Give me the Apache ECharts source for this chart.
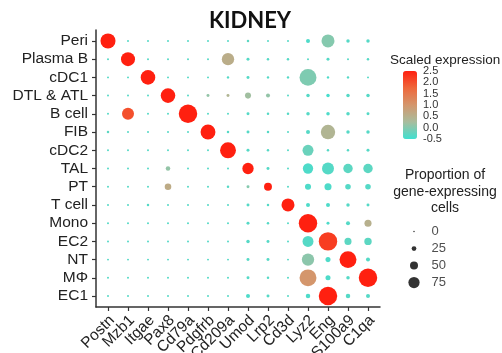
<!DOCTYPE html>
<html><head><meta charset="utf-8">
<script src="https://cdn.jsdelivr.net/npm/echarts@6/dist/echarts.min.js"></script>
<style>html,body{margin:0;padding:0;background:#fff}#c{width:502px;height:353px}</style>
</head><body><div id="c"></div>
<script>
const genes = ['Postn','Mzb1','Itgae','Pax8','Cd79a','Pdgfrb','Cd209a','Umod','Lrp2','Cd3d','Lyz2','Eng','S100a9','C1qa'];
const cellTypes = ['Peri','Plasma B','cDC1','DTL & ATL','B cell','FIB','cDC2','TAL','PT','T cell','Mono','EC2','NT','MΦ','EC1'];
// percent of cells expressing (rows = cellTypes, cols = genes)
const pct = [
  [78,1,1,1,1,1,1,4,1,1,13,66,10,10],
  [1,72,1,1,1,1,62,7,4,4,1,7,1,4],
  [1,1,75,1,1,1,4,7,4,4,89,4,4,1],
  [1,1,1,75,1,7,7,25,13,1,10,10,10,10],
  [1,60,1,1,98,1,1,7,4,4,10,10,10,7],
  [4,1,1,1,1,77,4,7,4,1,13,74,10,10],
  [1,1,1,1,1,1,83,7,4,1,54,4,4,7],
  [1,1,1,16,1,1,1,56,7,1,50,60,45,45],
  [1,1,1,28,1,1,4,7,36,1,25,31,22,22],
  [1,1,4,1,1,1,1,7,4,66,13,13,10,7],
  [1,1,1,1,1,1,1,7,4,1,98,7,13,31],
  [1,1,1,1,1,1,1,10,7,1,54,98,31,33],
  [1,1,1,1,1,1,1,7,7,1,62,19,89,13],
  [1,1,1,1,1,1,1,7,4,1,89,19,10,98],
  [1,1,1,1,1,1,1,13,7,1,16,98,16,13]
];
// scaled expression
const expr = [
  [2.5,-.35,-.35,-.35,-.35,-.35,-.35,-.3,-.35,-.35,-.4,0.0,-.35,-.35],
  [-.35,2.5,-.35,-.35,-.35,-.35,0.55,-.35,-.35,-.35,-.35,-.35,-.35,-.35],
  [-.35,-.35,2.5,-.35,-.35,-.35,-.35,-.35,-.35,-.35,-0.05,-.4,-.35,-.35],
  [-.35,-.35,-.35,2.5,-.35,0.1,0.4,0.2,0.1,-.35,-.35,-.45,-.35,-.35],
  [-.35,2.0,-.35,-.35,2.5,-.35,-.35,-.35,-.35,-.35,-.35,-.4,-.35,-.35],
  [-.3,-.35,-.35,-.35,-.35,2.5,-.35,-.35,-.35,-.35,-.35,0.4,-.35,-.35],
  [-.35,-.35,-.35,-.35,-.35,-.35,2.5,-.35,-.35,-.35,-0.2,-.35,-.35,-.35],
  [-.35,-.35,-.35,0.1,-.35,-.35,-.35,2.5,-.35,-.35,-.4,-.35,-.3,-.3],
  [-.35,-.35,-.35,0.6,-.35,-.35,-.35,0.0,2.5,-.35,-.4,-.4,-.35,-.35],
  [-.35,-.35,-.35,-.35,-.35,-.35,-.35,-.35,-.35,2.5,-.4,-.4,-.35,-.35],
  [-.35,-.35,-.35,-.35,-.35,-.35,-.35,-.35,-.35,-.35,2.5,-.4,-.35,0.5],
  [-.35,-.35,-.35,-.35,-.35,-.35,-.35,-.35,-.35,-.35,-.35,2.2,-.3,-.3],
  [-.35,-.35,-.35,-.35,-.35,-.35,-.35,-.35,-.35,-.35,0.05,-.4,2.5,-.35],
  [-.35,-.35,-.35,-.35,-.35,-.35,-.35,-.35,-.35,-.35,1.0,-.4,-.35,2.5],
  [-.35,-.35,-.35,-.35,-.35,-.35,-.35,-.4,-.35,-.35,-.4,2.5,-.35,-.35]
];
const exprRange = [-0.5, 2.5];
const sizeBreaks = [0,25,50,75];
const scaleColors = ['#40E0D0','#A8BD9D','#D4966C','#EE683B','#FF2010'];

const size = p => 1.8 + 0.17 * p;
const legendSize = p => 1.5 + 0.13 * p;
const data = [];
cellTypes.forEach((c,i)=>genes.forEach((g,j)=>data.push([j,i,pct[i][j],expr[i][j]])));
const geneIdx = genes.map((g,i)=>i);
const cellIdx = cellTypes.map((c,i)=>i);

const chart = echarts.init(document.getElementById('c'));
chart.setOption({
  animation:false,
  textStyle:{fontFamily:'Liberation Sans'},
  title:[
    {text:'KIDNEY', left:245, top:5, textAlign:'center', textStyle:{fontFamily:'Lato', fontWeight:'bold', fontSize:22, color:'#111'}},
    {text:'Scaled expression', left:385, top:48, textStyle:{fontFamily:'Liberation Sans', fontSize:13.5, fontWeight:'normal', color:'#222'}},
    {text:'Proportion of\ngene-expressing\ncells', left:440, top:162, textAlign:'center', textStyle:{fontFamily:'Liberation Sans', fontSize:14, fontWeight:'normal', lineHeight:16.5, color:'#222'}}
  ],
  grid:[
    {left:96, top:30, width:284, height:277, outerBoundsMode:'none'},
    {left:403, top:71, width:14, height:68, outerBoundsMode:'none'},
    {left:404, top:223, width:40, height:68, outerBoundsMode:'none'},
    {left:102, top:30, width:280, height:277, outerBoundsMode:'none'}
  ],
  xAxis:[
    {gridIndex:0, type:'value', min:-0.6, max:13.6, splitLine:{show:false},
     axisLine:{show:true, onZero:false, lineStyle:{color:'#333', width:1.5}},
     axisTick:{show:true, customValues:geneIdx, length:4, lineStyle:{color:'#333', width:1.2}},
     axisLabel:{show:false}},
    {gridIndex:1, type:'value', show:false, min:0, max:1},
    {gridIndex:2, type:'value', show:false, min:0, max:1},
    {gridIndex:3, type:'category', data:genes, boundaryGap:true,
     axisLine:{show:false}, axisTick:{show:false}, splitLine:{show:false},
     axisLabel:{interval:0, rotate:45, fontSize:15.5, color:'#222', margin:11}}
  ],
  yAxis:[
    {gridIndex:0, type:'value', inverse:true, min:-0.6, max:14.6, splitLine:{show:false},
     axisLine:{show:true, onZero:false, lineStyle:{color:'#333', width:1.5}},
     axisTick:{show:true, customValues:cellIdx, length:4, lineStyle:{color:'#333', width:1.2}},
     axisLabel:{customValues:cellIdx, showMinLabel:true, showMaxLabel:true,
       formatter:v=>cellTypes[Math.round(v)], fontSize:15.5, color:'#222', margin:8}},
    {gridIndex:1, type:'value', min:exprRange[0], max:exprRange[1], interval:0.5, position:'right',
     axisLine:{show:false}, splitLine:{show:false},
     axisTick:{show:true, inside:true, length:3, lineStyle:{color:'#fff'}},
     axisLabel:{fontSize:11, color:'#333', margin:6, formatter:v=>v.toFixed(1)}},
    {gridIndex:2, type:'value', show:false, inverse:true, min:-0.5, max:3.5},
    {gridIndex:3, type:'value', show:false, min:0, max:1}
  ],
  visualMap:{type:'continuous', min:exprRange[0], max:exprRange[1], dimension:3, seriesIndex:0,
    calculable:false, left:403, top:71, itemWidth:14, itemHeight:68, padding:0, showLabel:false,
    inRange:{color:scaleColors}},
  series:[
    {type:'scatter', xAxisIndex:0, yAxisIndex:0, data:data, symbolSize:d=>size(d[2]), itemStyle:{opacity:1}},
    {type:'scatter', xAxisIndex:2, yAxisIndex:2, data:sizeBreaks.map((b,i)=>[0.25,i,b]),
     symbolSize:d=>legendSize(d[2]), itemStyle:{color:'#000'}},
    {type:'scatter', xAxisIndex:2, yAxisIndex:2, data:sizeBreaks.map((b,i)=>[0.675,i,b]),
     symbolSize:1, itemStyle:{color:'rgba(0,0,0,0)'},
     label:{show:true, position:'right', distance:0, formatter:p=>String(p.data[2]), fontSize:13, color:'#222'}}
  ]
});
</script></body></html>
